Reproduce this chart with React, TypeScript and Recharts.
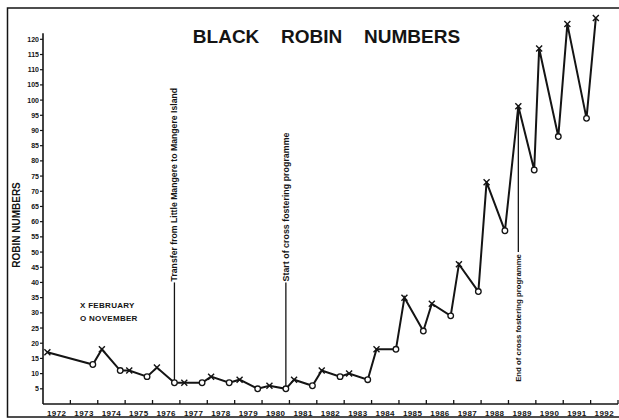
import React from 'react'
import { LineChart, Line, XAxis, YAxis, ReferenceLine, ReferenceDot } from 'recharts'

// February counts (x markers)
const februaryDates = [1972.16, 1974.15, 1975.15, 1976.16, 1977.16, 1978.14, 1979.18, 1980.27, 1981.17, 1982.18, 1983.18, 1984.18, 1985.2, 1986.2, 1987.19, 1988.2, 1989.36, 1990.12, 1991.15, 1992.19]
const februaryCounts = [17, 18, 11, 12, 7, 9, 8, 6, 8, 11, 10, 18, 35, 33, 46, 73, 98, 117, 125, 127]

// November counts (o markers)
const novemberDates = [1973.82, 1974.82, 1975.8, 1976.8, 1977.81, 1978.8, 1979.84, 1980.87, 1981.84, 1982.85, 1983.86, 1984.89, 1985.89, 1986.89, 1987.9, 1988.87, 1989.94, 1990.82, 1991.85]
const novemberCounts = [13, 11, 9, 7, 7, 7, 5, 5, 6, 9, 8, 18, 24, 29, 37, 57, 77, 88, 94]

const yearTicks = [1973, 1974, 1975, 1976, 1977, 1978, 1979, 1980, 1981, 1982, 1983, 1984, 1985, 1986, 1987, 1988, 1989, 1990, 1991, 1992, 1993]
const countTicks = [5, 10, 15, 20, 25, 30, 35, 40, 45, 50, 55, 60, 65, 70, 75, 80, 85, 90, 95, 100, 105, 110, 115, 120]

const annotations = [
  { label: 'Transfer from Little Mangere to Mangere Island', date: novemberDates[3], from: novemberCounts[3], to: 40, anchor: 'start', size: 8.7 },
  { label: 'Start of cross fostering programme', date: novemberDates[7], from: novemberCounts[7], to: 40, anchor: 'start', size: 8.9 },
  { label: 'End of cross fostering programme', date: februaryDates[16], from: februaryCounts[16], to: 50, anchor: 'end', size: 7.8 },
]

const INK = '#141414'
const FONT = '"Liberation Sans", Arial, sans-serif'
const NARROW = '"Liberation Sans Narrow", "Liberation Sans", Arial, sans-serif'

const data = [
  ...februaryDates.map((d, i) => ({ date: d, count: februaryCounts[i], month: 'Feb' })),
  ...novemberDates.map((d, i) => ({ date: d, count: novemberCounts[i], month: 'Nov' })),
].sort((a, b) => a.date - b.date)

const renderDot = (props: any) => {
  const { cx, cy, payload, index } = props
  if (payload.month === 'Feb') {
    return (
      <path key={index} d={`M${cx - 3},${cy - 3}L${cx + 3},${cy + 3}M${cx - 3},${cy + 3}L${cx + 3},${cy - 3}`}
        stroke={INK} strokeWidth={1.4} fill="none" />
    )
  }
  return <circle key={index} cx={cx} cy={cy} r={2.8} fill="#fff" stroke={INK} strokeWidth={1.3} />
}

// year label sits in the middle of the band left of each tick
const YearTick = ({ x, y, payload }: any) => (
  <g>
    <line x1={x} y1={y} x2={x} y2={y - 4} stroke={INK} strokeWidth={1.3} />
    <text x={x - 13.7} y={y + 12} textAnchor="middle" fontSize={8} fontWeight="bold" fontFamily={FONT} fill={INK} letterSpacing={0.4}>
      {payload.value - 1}
    </text>
  </g>
)

export default function App() {
  return (
    <div style={{ position: 'absolute', left: 0, top: 0, width: 619, height: 420, overflow: 'hidden', background: '#fff' }}>
      <LineChart width={619} height={420} data={data} margin={{ top: 15, right: 1, left: 0, bottom: 0 }}>
        <XAxis type="number" dataKey="date" domain={[1972, 1993]} ticks={yearTicks} interval={0}
          height={16} tickSize={0} tickMargin={0} tick={<YearTick />}
          axisLine={{ stroke: INK, strokeWidth: 1.6 }} />
        <YAxis type="number" domain={[0, 128]} ticks={countTicks} interval={0} width={43}
          tickSize={3} tickMargin={1} axisLine={false}
          tickLine={{ stroke: INK, strokeWidth: 1.2 }}
          tick={{ fontSize: 7, fontWeight: 'bold', fontFamily: NARROW, fill: INK }} />
        <ReferenceLine segment={[{ x: 1972, y: 0 }, { x: 1972, y: 122 }]} stroke={INK} strokeWidth={1.6} />
        {annotations.map(a => (
          <ReferenceLine key={a.label + 'l'} segment={[{ x: a.date, y: a.from }, { x: a.date, y: a.to }]} stroke={INK} strokeWidth={1.3} />
        ))}
        {annotations.map(a => (
          <ReferenceDot key={a.label} x={a.date} y={a.to} r={0}
            shape={(p: any) => (
              <text x={p.cx + (a.anchor === 'start' ? 1 : -2)} y={p.cy} transform={`rotate(-90 ${p.cx} ${p.cy})`}
                textAnchor={a.anchor} dominantBaseline="central" fontSize={a.size} fontWeight="bold" fontFamily={FONT} fill={INK}>
                {a.label}
              </text>
            )} />
        ))}
        <Line type="linear" dataKey="count" stroke={INK} strokeWidth={2} dot={renderDot} isAnimationActive={false} />
      </LineChart>
      <svg width={619} height={420} style={{ position: 'absolute', left: 0, top: 0, pointerEvents: 'none' }}>
        <rect x={7.5} y={8} width={700} height={409} fill="none" stroke={INK} strokeWidth={1.5} />
        <text x={326.5} y={42.5} textAnchor="middle" fontSize={19} fontWeight="bold" fontFamily={FONT} fill={INK} wordSpacing={16.5}>
          BLACK ROBIN NUMBERS
        </text>
        <text x={16} y={225} transform="rotate(-90 16 225)" textAnchor="middle" dominantBaseline="central"
          fontSize={10} fontWeight="bold" fontFamily={FONT} fill={INK}>
          ROBIN NUMBERS
        </text>
        <text x={80} y={308} fontSize={8} fontWeight="bold" fontFamily={FONT} fill={INK} letterSpacing={0.3}>X FEBRUARY</text>
        <text x={80} y={321} fontSize={8} fontWeight="bold" fontFamily={FONT} fill={INK} letterSpacing={0.3}>O NOVEMBER</text>
      </svg>
    </div>
  )
}
